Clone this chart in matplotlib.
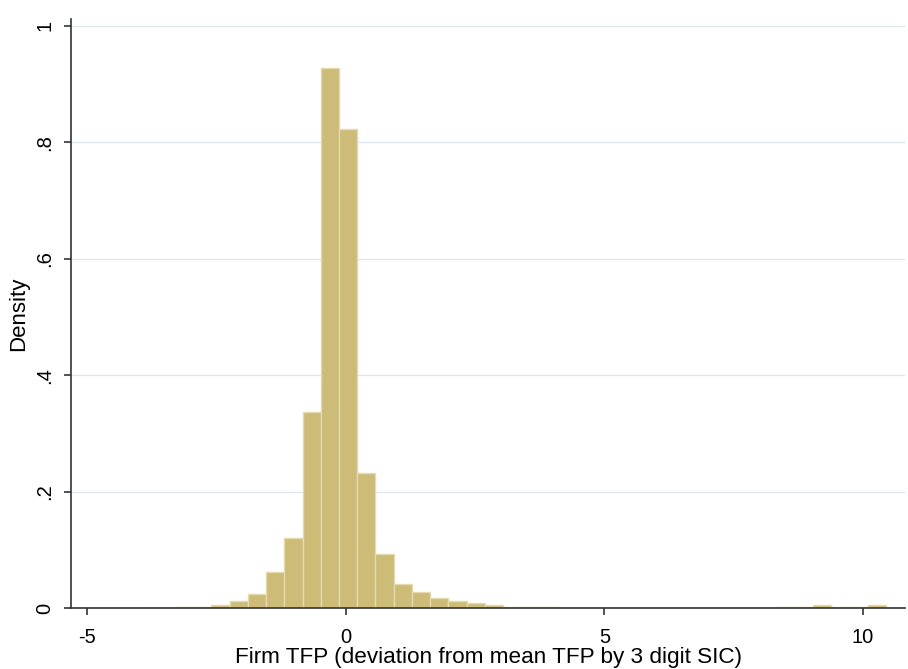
import matplotlib
matplotlib.use('Agg')
import matplotlib.pyplot as plt
import numpy as np

# Histogram bins (Stata-style: start at min, 41 bins)
bin_start = -4.01
bin_width = 0.3525
density = [
    0.001, 0.001, 0.0012, 0.0015, 0.005, 0.0125, 0.025, 0.062, 0.121, 0.336,
    0.928, 0.823, 0.2325, 0.093, 0.041, 0.027, 0.018, 0.012, 0.009, 0.005,
    0.002, 0.002, 0.0015, 0.001, 0.0008, 0.0, 0.0, 0.0, 0.0, 0.0,
    0.0, 0.0, 0.0, 0.0, 0.0, 0.002, 0.002, 0.005, 0.002, 0.002,
    0.005,
]
edges = bin_start + bin_width * np.arange(len(density) + 1)

x_ticks = [-5, 0, 5, 10]
y_ticks = [0, 0.2, 0.4, 0.6, 0.8, 1.0]
y_tick_labels = ["0", ".2", ".4", ".6", ".8", "1"]

plt.rcParams['font.family'] = ['Liberation Sans', 'DejaVu Sans']

fig = plt.figure(figsize=(9.08, 6.69), dpi=100)
ax = fig.add_axes([0.078, 0.091, 0.919, 0.881])

ax.bar(edges[:-1], density, width=bin_width, align='edge',
       color='#CCBC78', edgecolor='#E4DAAE', linewidth=1.0, zorder=3)

ax.set_xlim(-5.32, 10.82)
ax.set_ylim(0, 1.012)
ax.set_xticks(x_ticks)
ax.set_xticklabels([str(t) for t in x_ticks])
ax.set_yticks(y_ticks)
ax.set_yticklabels(y_tick_labels, rotation=90, va='center')

ax.grid(axis='y', color='#DCE7EE', linewidth=1.0, zorder=0)
ax.set_axisbelow(True)

for s in ['top', 'right']:
    ax.spines[s].set_visible(False)
for s in ['left', 'bottom']:
    ax.spines[s].set_color('#333333')
    ax.spines[s].set_linewidth(1.2)
    ax.spines[s].set_zorder(4)

ax.tick_params(axis='both', direction='out', length=5, width=1.2,
               color='#333333', labelsize=14.5)
ax.tick_params(axis='x', pad=9)
ax.tick_params(axis='y', pad=7)

ax.set_ylabel('Density', fontsize=16, labelpad=4)
ax.set_xlabel('Firm TFP (deviation from mean TFP by 3 digit SIC)', fontsize=16.2, labelpad=0)

fig.savefig('out.png', dpi=100, facecolor='white')
